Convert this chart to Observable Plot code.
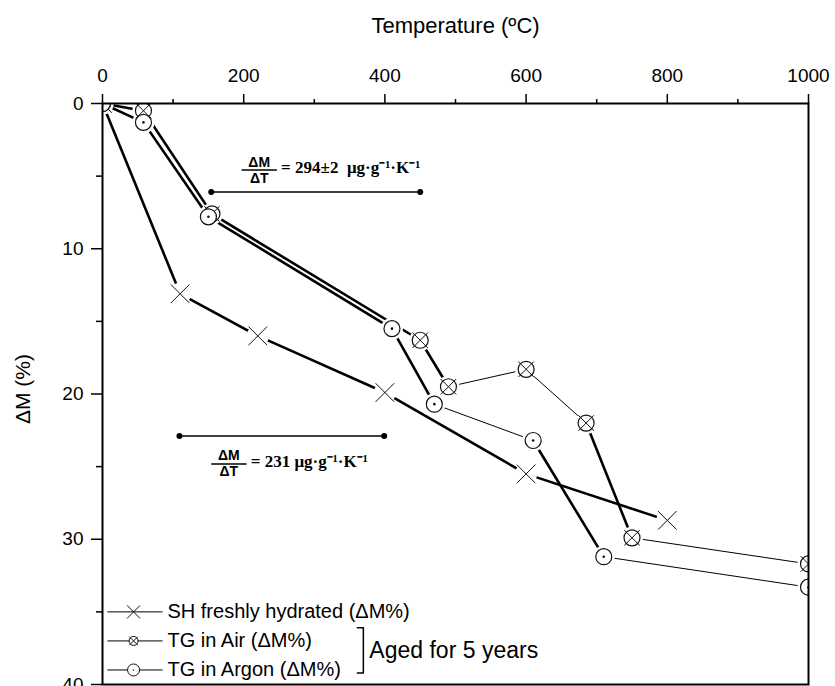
<!DOCTYPE html>
<html><head><meta charset="utf-8">
<script src="https://cdn.jsdelivr.net/npm/d3@7"></script>
<script src="https://cdn.jsdelivr.net/npm/@observablehq/plot@0.6"></script>
<style>body{margin:0;background:#fff;}</style>
</head><body><div id="chart"></div>
<script>
// ---- data ----
const shTemp = [0, 110, 220, 400, 600, 800];
const shDM = [0, 13.1, 16.0, 19.9, 25.5, 28.7];
const airTemp = [0, 58, 155, 450, 490, 600, 685, 750, 1000];
const airDM = [0, 0.5, 7.6, 16.3, 19.5, 18.3, 22.0, 29.9, 31.7];
const argonTemp = [0, 58, 150, 410, 470, 610, 710, 1000];
const argonDM = [0, 1.3, 7.8, 15.5, 20.7, 23.2, 31.2, 33.3];
const xTicks = [0, 200, 400, 600, 800, 1000];
const xMinorTicks = [100, 300, 500, 700, 900];
const yTicks = [0, 10, 20, 30, 40];
const yMinorTicks = [5, 15, 25, 35];
const legendLabels = ["SH freshly hydrated (ΔM%)", "TG in Air (ΔM%)", "TG in Argon (ΔM%)"];
const groupLabel = "Aged for 5 years";
const rateTexts = ["= 294±2  μg·g⁻¹·K⁻¹", "= 231 μg·g⁻¹·K⁻¹"];
const rateFrom = [154, 109];
const rateTo = [450, 399];
const rateLevel = [6.1, 22.9];
const xTitle = "Temperature (ºC)";
const yTitle = "ΔM (%)";

// ---- style config (segment widths, layout) ----
const thinSegments = {sh: [], air: [4, 5, 7], argon: [4, 6]};
const THICK = 2.6, THIN = 1;
const INK = "#111";

const pts = (t, v) => t.map((x, i) => ({x, y: v[i]}));
const segs = (p, thin) => d3.pairs(p).map(([a, b], i) => ({x1: a.x, y1: a.y, x2: b.x, y2: b.y, w: thin.includes(i) ? THIN : THICK}));
const sh = pts(shTemp, shDM), air = pts(airTemp, airDM), argon = pts(argonTemp, argonDM);
const allSegs = [...segs(sh, thinSegments.sh), ...segs(air, thinSegments.air), ...segs(argon, thinSegments.argon)];

// annotation layout (data units)
const fracLayout = [
  {cx: 222, bx1: 197, bx2: 247, by: 4.58, tx: 253},
  {cx: 179, bx1: 154, bx2: 204, by: 24.82, tx: 210}
];
const fracs = fracLayout.map((f, i) => ({...f, text: rateTexts[i]}));
const rates = rateFrom.map((a, i) => ({x1: a, x2: rateTo[i], y: rateLevel[i]}));
const rateEnds = rates.flatMap(r => [{x: r.x1, y: r.y}, {x: r.x2, y: r.y}]);

// legend layout (data units)
const legX1 = 7, legX2 = 85, legMX = 44, legTX = 92, legY0 = 35, legDY = 2;
const legend = legendLabels.map((label, i) => ({label, i, y: legY0 + legDY * i}));
const bracket = [{x: 361, y: 36.1}, {x: 369.5, y: 36.1}, {x: 369.5, y: 39.2}, {x: 361, y: 39.2}];

const SANS = "'Liberation Sans', Arial, sans-serif";
const SERIF = "'Liberation Serif', 'Times New Roman', serif";

const plot = Plot.plot({
  width: 835, height: 686,
  marginTop: 103, marginLeft: 102, marginRight: 27, marginBottom: 2,
  x: {domain: [0, 1000]},
  y: {domain: [0, 40], reverse: true},
  style: {fontFamily: SANS, fontSize: "19px", color: "black", background: "white", overflow: "hidden"},
  marks: [
    // series lines
    Plot.link(allSegs, {x1: "x1", y1: "y1", x2: "x2", y2: "y2", stroke: "black", strokeWidth: d => d.w, clip: true}),
    // white halos around markers
    Plot.dot([...sh, ...air, ...argon], {x: "x", y: "y", r: 11, fill: "white", clip: true}),
    // SH markers
    Plot.dot(sh, {x: "x", y: "y", symbol: "times", r: 8.5, stroke: INK, strokeWidth: 1, clip: true}),
    // Air markers (circle with X)
    Plot.dot(air, {x: "x", y: "y", r: 8, fill: "white", stroke: INK, strokeWidth: 1.2, clip: true}),
    Plot.dot(air, {x: "x", y: "y", symbol: "times", r: 7.1, stroke: INK, strokeWidth: 1, clip: true}),
    // Argon markers (circle with dot)
    Plot.dot(argon, {x: "x", y: "y", r: 8, fill: "white", stroke: INK, strokeWidth: 1.2, clip: true}),
    Plot.dot(argon, {x: "x", y: "y", r: 1.3, fill: INK, clip: true}),

    // rate annotations
    Plot.link(rates, {x1: "x1", x2: "x2", y1: "y", y2: "y", stroke: "black", strokeWidth: 1.5}),
    Plot.dot(rateEnds, {x: "x", y: "y", r: 3, fill: "black"}),
    Plot.text(fracs, {x: "cx", y: "by", text: () => "ΔM", lineAnchor: "middle", dy: -8, fontSize: 14, fontWeight: "bold", fontFamily: SANS}),
    Plot.text(fracs, {x: "cx", y: "by", text: () => "ΔT", lineAnchor: "middle", dy: 8, fontSize: 14, fontWeight: "bold", fontFamily: SANS}),
    Plot.link(fracs, {x1: "bx1", x2: "bx2", y1: "by", y2: "by", stroke: "black", strokeWidth: 1.6}),
    Plot.text(fracs, {x: "tx", y: "by", text: "text", textAnchor: "start", lineAnchor: "middle", dy: -2, fontSize: 17, fontWeight: "bold", fontFamily: SERIF}),

    // legend
    Plot.link(legend, {x1: () => legX1, x2: () => legX2, y1: "y", y2: "y", stroke: "black", strokeWidth: 1}),
    Plot.dot(legend.filter(d => d.i === 0), {x: () => legMX, y: "y", symbol: "times", r: 6, stroke: INK, strokeWidth: 1}),
    Plot.dot(legend.filter(d => d.i === 1), {x: () => legMX, y: "y", r: 4.5, fill: "white", stroke: INK, strokeWidth: 1}),
    Plot.dot(legend.filter(d => d.i === 1), {x: () => legMX, y: "y", symbol: "times", r: 4, stroke: INK, strokeWidth: 1}),
    Plot.dot(legend.filter(d => d.i === 2), {x: () => legMX, y: "y", r: 6, fill: "white", stroke: INK, strokeWidth: 1}),
    Plot.dot(legend.filter(d => d.i === 2), {x: () => legMX, y: "y", r: 0.7, fill: INK}),
    Plot.text(legend, {x: () => legTX, y: "y", text: "label", textAnchor: "start", fontSize: 20}),
    Plot.line(bracket, {x: "x", y: "y", stroke: "black", strokeWidth: 1.5}),
    Plot.text([groupLabel], {x: () => 378, y: () => 37.7, text: d => d, textAnchor: "start", fontSize: 23}),

    // titles
    Plot.text([xTitle], {frameAnchor: "top", dy: -78, text: d => d, fontSize: 22, lineAnchor: "middle"}),
    Plot.text([yTitle], {frameAnchor: "left", dx: -79, dy: 30, text: d => d, fontSize: 21, rotate: -90, lineAnchor: "middle"}),

    // axes and frame
    Plot.axisX(xTicks, {anchor: "top", tickSize: 10, tickPadding: 12, fontSize: 19, strokeWidth: 1.5, label: null, tickFormat: d => String(d)}),
    Plot.axisX(xMinorTicks, {anchor: "top", tickSize: 5, tickFormat: () => "", strokeWidth: 1.5, label: null}),
    Plot.axisY(yTicks, {anchor: "left", tickSize: 11, tickPadding: 8, fontSize: 19, strokeWidth: 1.5, label: null, tickFormat: d => String(d)}),
    Plot.axisY(yMinorTicks, {anchor: "left", tickSize: 6, tickFormat: () => "", strokeWidth: 1.5, label: null}),
    Plot.frame({stroke: "black", strokeWidth: 2})
  ]
});
document.getElementById("chart").append(plot);
</script>
</body></html>
